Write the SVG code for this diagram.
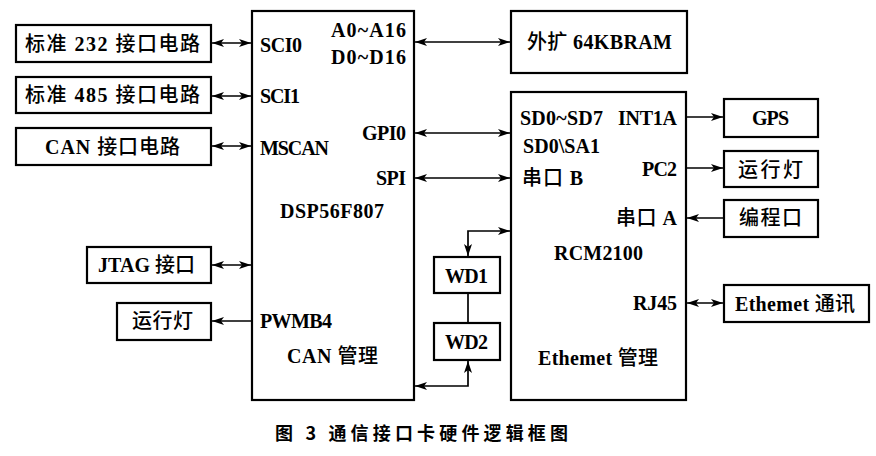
<svg xmlns="http://www.w3.org/2000/svg" width="876" height="456" viewBox="0 0 876 456">
<defs>
<marker id="ah" markerUnits="userSpaceOnUse" markerWidth="13" markerHeight="9" refX="12" refY="4.5" orient="auto-start-reverse">
<path d="M0,0.5 L12,4.5 L0,8.5 L3,4.5 Z" fill="#000"/>
</marker>
<style>
.box{fill:#fff;stroke:#000;stroke-width:2.2}
.ln{fill:none;stroke:#000;stroke-width:1.7}
.t{font-family:"Liberation Serif","Noto Sans CJK SC",serif;font-size:20px;font-weight:bold;fill:#000}
.c{font-weight:500}
.cap{font-family:"Noto Sans CJK SC","Liberation Sans",sans-serif;font-size:18px;font-weight:bold;fill:#000}
</style>
</defs>
<rect width="876" height="456" fill="#fff"/>

<g id="dsp">
<rect class="box" x="252" y="11" width="162" height="389"/>
<text class="t" x="260" y="52" textLength="42" lengthAdjust="spacing">SCI0</text>
<text class="t" x="260" y="103" textLength="40" lengthAdjust="spacing">SCI1</text>
<text class="t" x="260" y="155" textLength="69" lengthAdjust="spacing">MSCAN</text>
<text class="t" x="331" y="37" textLength="75" lengthAdjust="spacing">A0~A16</text>
<text class="t" x="331" y="64" textLength="75" lengthAdjust="spacing">D0~D16</text>
<text class="t" x="362" y="140" textLength="44" lengthAdjust="spacing">GPI0</text>
<text class="t" x="376" y="185" textLength="30" lengthAdjust="spacing">SPI</text>
<text class="t" x="280" y="218" textLength="104" lengthAdjust="spacing">DSP56F807</text>
<text class="t" x="260" y="328" textLength="72" lengthAdjust="spacing">PWMB4</text>
<text class="t" x="287" y="363" textLength="91" lengthAdjust="spacing">CAN <tspan class="c">管理</tspan></text>
</g>

<g id="sci0-box">
<rect class="box" x="16" y="25" width="195" height="37"/>
<text class="t" x="25" y="51" textLength="175" lengthAdjust="spacing"><tspan class="c">标准</tspan> 232 <tspan class="c">接口电路</tspan></text>
</g>
<g id="sci1-box">
<rect class="box" x="16" y="77" width="195" height="36"/>
<text class="t" x="25" y="102" textLength="175" lengthAdjust="spacing"><tspan class="c">标准</tspan> 485 <tspan class="c">接口电路</tspan></text>
</g>
<g id="can-box">
<rect class="box" x="16" y="128" width="195" height="37"/>
<text class="t" x="45" y="154" textLength="135" lengthAdjust="spacing">CAN <tspan class="c">接口电路</tspan></text>
</g>
<g id="jtag-box">
<rect class="box" x="87" y="247" width="124" height="36"/>
<text class="t" x="98" y="272" textLength="97" lengthAdjust="spacing">JTAG <tspan class="c">接口</tspan></text>
</g>
<g id="led-left">
<rect class="box" x="117" y="303" width="94" height="37"/>
<text class="t c" x="132" y="328" textLength="61" lengthAdjust="spacing">运行灯</text>
</g>

<g id="ram">
<rect class="box" x="511" y="11" width="176" height="62"/>
<text class="t" x="527" y="49" textLength="145" lengthAdjust="spacing"><tspan class="c">外扩</tspan> 64KBRAM</text>
</g>

<g id="rcm">
<rect class="box" x="511" y="92" width="175" height="308"/>
<text class="t" x="520" y="125" textLength="83" lengthAdjust="spacing">SD0~SD7</text>
<text class="t" x="618" y="125" textLength="59" lengthAdjust="spacing">INT1A</text>
<text class="t" x="523" y="153" textLength="77" lengthAdjust="spacing">SD0\SA1</text>
<text class="t" x="522" y="185" textLength="61" lengthAdjust="spacing"><tspan class="c">串口</tspan> B</text>
<text class="t" x="642" y="176" textLength="35" lengthAdjust="spacing">PC2</text>
<text class="t" x="616" y="225" textLength="61" lengthAdjust="spacing"><tspan class="c">串口</tspan> A</text>
<text class="t" x="554" y="260" textLength="89" lengthAdjust="spacing">RCM2100</text>
<text class="t" x="633" y="310" textLength="44" lengthAdjust="spacing">RJ45</text>
<text class="t" x="538" y="365" textLength="120" lengthAdjust="spacing">Ethemet <tspan class="c">管理</tspan></text>
</g>

<g id="gps">
<rect class="box" x="724" y="99" width="94" height="38"/>
<text class="t" x="752" y="125" textLength="37" lengthAdjust="spacing">GPS</text>
</g>
<g id="led-right">
<rect class="box" x="724" y="151" width="94" height="36"/>
<text class="t c" x="738" y="177" textLength="65" lengthAdjust="spacing">运行灯</text>
</g>
<g id="prog">
<rect class="box" x="724" y="200" width="94" height="37"/>
<text class="t c" x="739" y="225" textLength="63" lengthAdjust="spacing">编程口</text>
</g>
<g id="eth">
<rect class="box" x="724" y="285" width="145" height="37"/>
<text class="t" x="735" y="311" textLength="120" lengthAdjust="spacing">Ethemet <tspan class="c">通讯</tspan></text>
</g>

<g id="wd1">
<rect class="box" x="434" y="257" width="66" height="36"/>
<text class="t" x="445" y="283" textLength="43" lengthAdjust="spacing">WD1</text>
</g>
<g id="wd2">
<rect class="box" x="434" y="323" width="66" height="37"/>
<text class="t" x="445" y="349" textLength="43" lengthAdjust="spacing">WD2</text>
</g>

<g id="connectors">
<line class="ln" x1="212" y1="43" x2="251" y2="43" marker-start="url(#ah)" marker-end="url(#ah)"/>
<line class="ln" x1="212" y1="96" x2="251" y2="96" marker-start="url(#ah)" marker-end="url(#ah)"/>
<line class="ln" x1="212" y1="146" x2="251" y2="146" marker-start="url(#ah)" marker-end="url(#ah)"/>
<line class="ln" x1="212" y1="265" x2="251" y2="265" marker-start="url(#ah)" marker-end="url(#ah)"/>
<line class="ln" x1="252" y1="321" x2="212" y2="321" marker-end="url(#ah)"/>
<line class="ln" x1="415" y1="42" x2="510" y2="42" marker-start="url(#ah)" marker-end="url(#ah)"/>
<line class="ln" x1="415" y1="133" x2="510" y2="133" marker-start="url(#ah)" marker-end="url(#ah)"/>
<line class="ln" x1="415" y1="178" x2="510" y2="178" marker-start="url(#ah)" marker-end="url(#ah)"/>
<line class="ln" x1="687" y1="117" x2="723" y2="117" marker-end="url(#ah)"/>
<line class="ln" x1="687" y1="168" x2="723" y2="168" marker-end="url(#ah)"/>
<line class="ln" x1="724" y1="218" x2="687" y2="218" marker-end="url(#ah)"/>
<line class="ln" x1="687" y1="303" x2="723" y2="303" marker-start="url(#ah)" marker-end="url(#ah)"/>
<polyline class="ln" points="468,256 468,231 510,231" marker-start="url(#ah)" marker-end="url(#ah)"/>
<line class="ln" x1="468" y1="293" x2="468" y2="323"/>
<polyline class="ln" points="468,361 468,386 415,386" marker-start="url(#ah)" marker-end="url(#ah)"/>
</g>

<text class="cap" x="275" y="440" textLength="293" lengthAdjust="spacing">图 3  通信接口卡硬件逻辑框图</text>
</svg>
